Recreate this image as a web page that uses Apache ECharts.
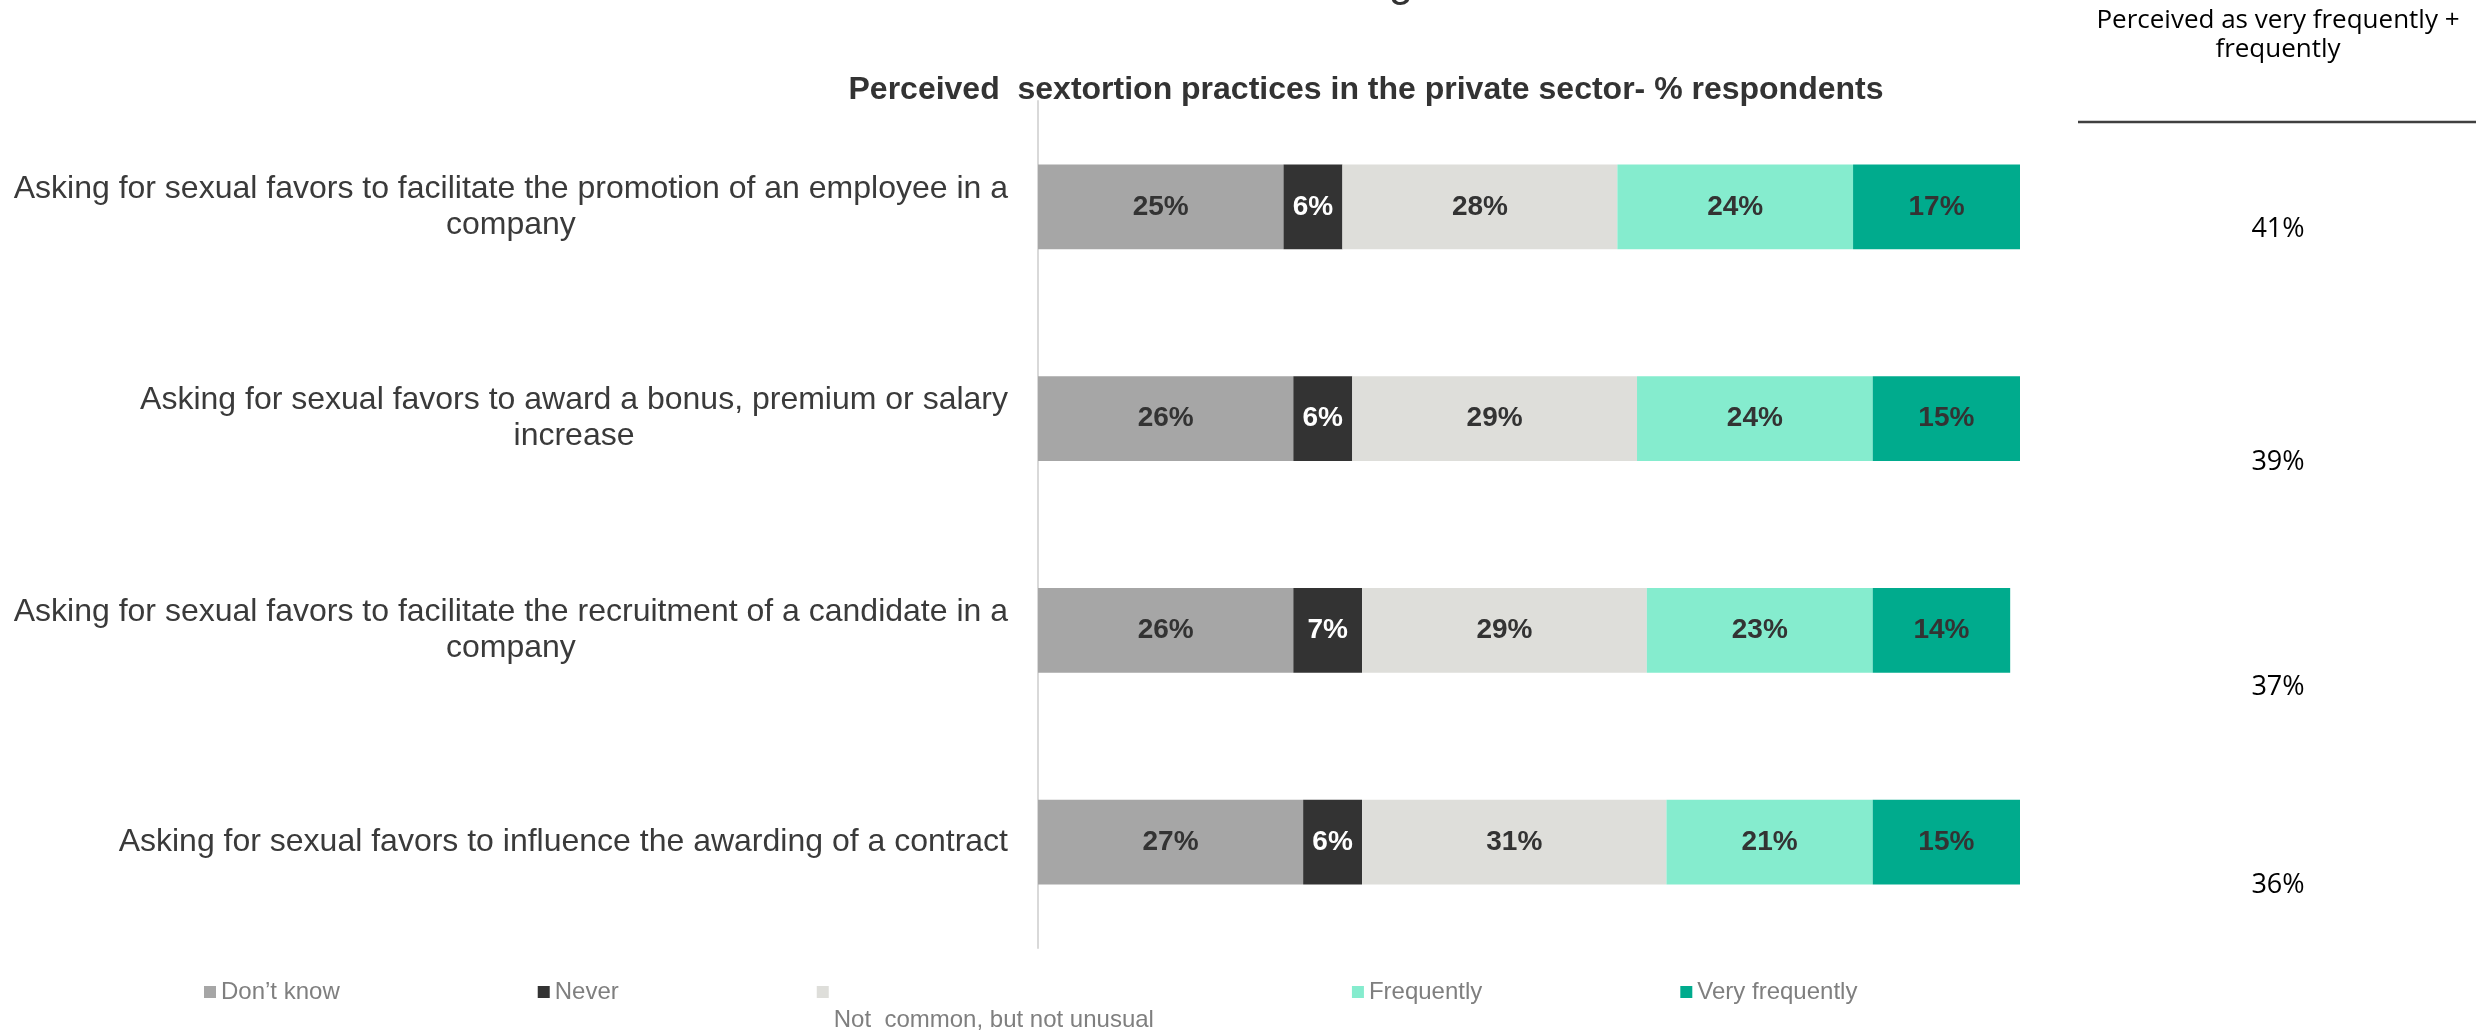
<!DOCTYPE html>
<html>
<head>
<meta charset="utf-8">
<script src="https://cdn.jsdelivr.net/npm/echarts@6/dist/echarts.min.js"></script>
<style>
  html, body { margin: 0; padding: 0; background: #ffffff; }
  #chart { width: 2484px; height: 1034px; }
</style>
</head>
<body>
<div id="chart"></div>
<script>
// Survey items (line breaks mark where each label wraps)
const categories = [
  'Asking for sexual favors to facilitate the promotion of an employee in a\ncompany',
  'Asking for sexual favors to award a bonus, premium or salary\nincrease',
  'Asking for sexual favors to facilitate the recruitment of a candidate in a\ncompany',
  'Asking for sexual favors to influence the awarding of a contract'
];

// Answer shares, % of respondents
const seriesNames = ['Don\u2019t know', 'Never', 'Not  common, but not unusual', 'Frequently', 'Very frequently'];
const dontKnow       = [25, 26, 26, 27];
const never          = [6, 6, 7, 6];
const notCommon      = [28, 29, 29, 31];
const frequently     = [24, 24, 23, 21];
const veryFrequently = [17, 15, 14, 15];

// Side table: very frequently + frequently
const combinedShare = [41, 39, 37, 36];
const sideHeader = 'Perceived as very frequently +\nfrequently';
const chartTitle = 'Perceived  sextortion practices in the private sector- % respondents';

const seriesColors = ['#a6a6a6', '#333333', '#dededa', '#85ecce', '#00ab8d'];
const labelColors  = ['#333333', '#ffffff', '#333333', '#333333', '#333333'];
const seriesData   = [dontKnow, never, notCommon, frequently, veryFrequently];

const chart = echarts.init(document.getElementById('chart'), null, { renderer: 'canvas' });

const series = seriesNames.map((name, i) => ({
  name: name,
  type: 'bar',
  stack: 'total',
  barCategoryGap: '60%',
  data: seriesData[i],
  itemStyle: { color: seriesColors[i] },
  label: {
    show: true,
    position: 'inside',
    formatter: '{c}%',
    color: labelColors[i],
    fontFamily: 'Liberation Sans',
    fontWeight: 'bold',
    fontSize: 28
  },
  emphasis: { disabled: true }
}));

// Right-hand table rows
const sideRowY = [229, 462, 687, 885];
const sideX = 2278;
const sideTexts = combinedShare.map((v, i) => ({
  type: 'text',
  x: sideX,
  y: sideRowY[i],
  style: {
    text: v + '%',
    fill: '#000000',
    font: '27px "Open Sans"',
    textAlign: 'center',
    textVerticalAlign: 'middle'
  }
}));

const option = {
  backgroundColor: '#ffffff',
  animation: false,
  grid: { left: 1038, right: 464, top: 101, bottom: 86 },
  xAxis: {
    type: 'value',
    min: 0,
    max: 100,
    show: false
  },
  yAxis: {
    type: 'category',
    inverse: true,
    data: categories,
    axisLine: { show: true, lineStyle: { color: '#d9d9d9', width: 2 } },
    axisTick: { show: false },
    splitLine: { show: false },
    axisLabel: {
      margin: 30,
      formatter: v => v.split('\n').map(s => '{l|' + s + '}').join('\n'),
      rich: {
        l: {
          align: 'center',
          fontFamily: 'Liberation Sans',
          fontSize: 32,
          lineHeight: 36,
          color: '#3a3a3a'
        }
      }
    }
  },
  legend: {
    left: 204,
    top: 950,
    padding: 0,
    orient: 'horizontal',
    icon: 'rect',
    itemWidth: 12,
    itemHeight: 12,
    itemGap: 198,
    selectedMode: false,
    data: seriesNames,
    formatter: name => (name === seriesNames[2] ? '\n\n' + name : name),
    textStyle: {
      fontFamily: 'Liberation Sans',
      fontSize: 24,
      lineHeight: 28,
      color: '#7f7f7f'
    }
  },
  graphic: [
    {
      type: 'text',
      x: 1401,
      y: -16,
      style: {
        text: 'g',
        fill: '#333333',
        font: '44px "Liberation Sans"',
        textAlign: 'center',
        textVerticalAlign: 'middle'
      }
    },
    {
      type: 'text',
      x: 1366,
      y: 90,
      style: {
        text: chartTitle,
        fill: '#333333',
        font: 'bold 32px "Liberation Sans"',
        textAlign: 'center',
        textVerticalAlign: 'middle'
      }
    },
    {
      type: 'text',
      x: sideX,
      y: 35,
      style: {
        text: sideHeader,
        fill: '#000000',
        font: '26px "Open Sans"',
        lineHeight: 29,
        textAlign: 'center',
        textVerticalAlign: 'middle'
      }
    },
    {
      type: 'line',
      shape: { x1: 2078, y1: 122, x2: 2476, y2: 122 },
      style: { stroke: '#404040', lineWidth: 2.5 }
    }
  ].concat(sideTexts),
  series: series
};

chart.setOption(option);
</script>
</body>
</html>
